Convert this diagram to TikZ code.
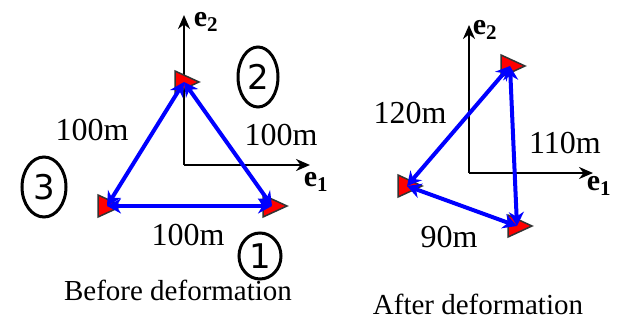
\documentclass[tikz,border=0pt]{standalone}
\usepackage{fontspec}
\setmainfont{Liberation Serif}
\newfontfamily\handfont{DejaVu Sans}
\usetikzlibrary{arrows.meta,shapes.geometric}
\tikzset{
  axis/.style={line width=2.4pt, black, -{Stealth[length=14pt,width=12pt]}},
  edge/.style={line width=4pt, blue, {Stealth[length=14pt,width=15pt]}-{Stealth[length=14pt,width=15pt]}},
  lbl/.style={font=\fontsize{32}{32}\selectfont, anchor=base, inner sep=0pt},
  captxt/.style={font=\fontsize{29}{29}\selectfont, anchor=base, inner sep=0pt},
  elbl/.style={font=\fontsize{30}{30}\selectfont\bfseries, inner sep=0pt},
  hand/.style={draw, line width=3pt, ellipse, inner sep=0pt, font=\handfont\fontsize{34}{34}\selectfont},
  mk/.pic={\filldraw[fill=red, draw=black!80, line width=1.5pt] (-9,-11) -- (-9,11) -- (15,0) -- cycle;}
}
\begin{document}
\begin{tikzpicture}[x=1pt,y=-1pt]
\useasboundingbox (0,0) rectangle (623,321);
% ---------- Before deformation ----------
\coordinate (o1) at (184,165);
\coordinate (y1) at (184,15);
\coordinate (x1) at (310,165);
\draw[axis] (o1) -- (y1);
\draw[axis] (o1) -- (x1);
\node[elbl] (e2a) at (206,22) {e\textsubscript{2}};
\node[elbl] (e1a) at (316,182) {e\textsubscript{1}};
\coordinate (T) at (184,82);
\coordinate (L) at (107,206);
\coordinate (R) at (272,206);
\pic at (T) {mk};
\pic at (L) {mk};
\pic at (R) {mk};
\draw[edge] (L) -- (T);
\draw[edge] (T) -- (R);
\draw[edge] (L) -- (R);
\node[lbl] (lab1) at (92,140) {100m};
\node[lbl] (lab2) at (281,145) {100m};
\node[lbl] (lab3) at (188,245) {100m};
\node[captxt] (capA) at (178,300) {Before deformation};
\node[hand, minimum width=40pt, minimum height=60pt] (n2) at (258,77) {2};
\node[hand, minimum width=44pt, minimum height=60pt] (n3) at (44,187) {3};
\node[hand, minimum width=42pt, minimum height=46pt] (n1) at (260,256) {1};
% ---------- After deformation ----------
\coordinate (o2) at (469,173);
\coordinate (y2) at (469,25);
\coordinate (x2) at (593,173);
\draw[axis] (o2) -- (y2);
\draw[axis] (o2) -- (x2);
\node[elbl] (e2b) at (485,30) {e\textsubscript{2}};
\node[elbl] (e1b) at (599,186) {e\textsubscript{1}};
\coordinate (T2) at (510,66);
\coordinate (L2) at (407,186);
\coordinate (B2) at (517,226);
\pic at (T2) {mk};
\pic at (L2) {mk};
\pic at (B2) {mk};
\draw[edge] (L2) -- (T2);
\draw[edge] (T2) -- (B2);
\draw[edge] (L2) -- (B2);
\node[lbl] (lab4) at (410,123) {120m};
\node[lbl] (lab5) at (565,153) {110m};
\node[lbl] (lab6) at (449,247) {90m};
\node[captxt] (capB) at (478,314) {After deformation};
\end{tikzpicture}
\end{document}
